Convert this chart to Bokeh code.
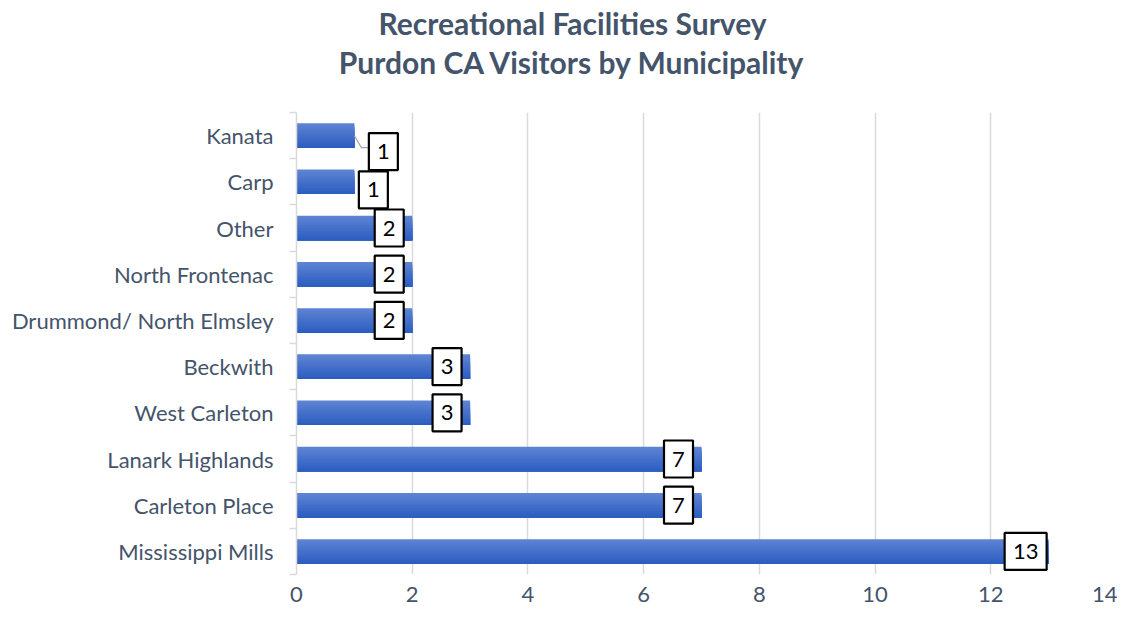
from bokeh.plotting import figure
from bokeh.layouts import column
from bokeh.models import FixedTicker, ColumnDataSource, Range1d
from bokeh.core.properties import value
from bokeh.embed import file_html
from bokeh.resources import INLINE

# ---- data (bottom to top) ----
municipalities = ["Mississippi Mills", "Carleton Place", "Lanark Highlands", "West Carleton",
                  "Beckwith", "Drummond/ North Elmsley", "North Frontenac", "Other", "Carp", "Kanata"]
visitors = [13, 7, 7, 3, 3, 2, 2, 2, 1, 1]
x_ticks = [0, 2, 4, 6, 8, 10, 12, 14]
title_lines = ["Recreational Facilities Survey", "Purdon CA Visitors by Municipality"]

FONT = "Lato"
TXT = "#44546A"
GRID = "#D9D9D9"

W = 1117
TH = 100          # title strip height
H = 507           # chart height
BL, BR, BT, BB = 296, 11, 12, 33
frame_w = W - BL - BR
frame_h = H - BT - BB
XMAX = 14
NCAT = len(municipalities)
px_x = frame_w / XMAX
px_y = frame_h / NCAT

centers = [i + 0.5 for i in range(NCAT)]

# ---- title strip (pixel coordinates; frame aligned with chart frame) ----
tf = figure(width=W, height=TH, output_backend="svg", toolbar_location=None,
            x_range=Range1d(BL, W - BR), y_range=Range1d(0, TH),
            min_border_left=BL, min_border_right=BR, min_border_top=0, min_border_bottom=0)
tf.axis.visible = False
tf.grid.visible = False
tf.outline_line_color = None
tf.text(x=[572, 572], y=[TH - 22, TH - 61], text=title_lines, text_align="center",
        text_baseline="middle", text_font=value(FONT), text_font_style="bold",
        text_font_size="30px", text_color=TXT)

# ---- chart ----
p = figure(width=W, height=H, output_backend="svg", toolbar_location=None,
           x_range=Range1d(0, XMAX), y_range=Range1d(0, NCAT),
           min_border_left=BL, min_border_right=BR, min_border_bottom=BB, min_border_top=BT)
p.outline_line_color = None
p.background_fill_color = "white"

# grid
p.ygrid.grid_line_color = None
p.xgrid.ticker = FixedTicker(ticks=x_ticks)
p.xgrid.grid_line_color = GRID
p.xgrid.grid_line_width = 1.5

# x axis
p.xaxis.ticker = FixedTicker(ticks=x_ticks)
p.xaxis.axis_line_color = None
p.xaxis.major_tick_line_color = None
p.xaxis.minor_tick_line_color = None
p.xaxis.major_tick_out = 0
p.xaxis.major_label_standoff = 12
p.xaxis.major_label_text_font = FONT
p.xaxis.major_label_text_font_size = "22px"
p.xaxis.major_label_text_color = TXT

# y axis: labels at centres, ticks at category boundaries
p.yaxis.ticker = FixedTicker(ticks=centers, minor_ticks=list(range(NCAT + 1)))
p.yaxis.major_label_overrides = {c: m for c, m in zip(centers, municipalities)}
p.yaxis.axis_line_color = GRID
p.yaxis.axis_line_width = 1.5
p.yaxis.major_tick_line_color = None
p.yaxis.major_tick_out = 0
p.yaxis.major_tick_in = 0
p.yaxis.minor_tick_line_color = GRID
p.yaxis.minor_tick_line_width = 1.5
p.yaxis.minor_tick_out = 7
p.yaxis.minor_tick_in = 0
p.yaxis.major_label_standoff = 16
p.yaxis.major_label_text_font = FONT
p.yaxis.major_label_text_font_size = "22px"
p.yaxis.major_label_text_color = TXT

# gradient bars: overlapping layers, each from its top edge down to bar bottom
bar_h = 0.53
N = 16
top_c = (0x5E, 0x83, 0xD3)
bot_c = (0x2C, 0x5E, 0xC1)
for k in range(N):
    f = k / (N - 1)
    col = "#%02x%02x%02x" % tuple(int(round(a + (b - a) * f)) for a, b in zip(top_c, bot_c))
    hk = bar_h * (N - k) / N
    p.hbar(y=[c - bar_h / 2 + hk / 2 for c in centers], left=0, right=visitors, height=hk,
           fill_color=col, line_color=None)

# data label boxes (manual Excel offsets, px -> data units)
dx_px, dy_px = [], []
for v, m in zip(visitors, municipalities):
    if m == "Kanata":
        dx_px.append(29); dy_px.append(-16)
    elif m == "Carp":
        dx_px.append(19); dy_px.append(-8)
    else:
        dx_px.append(-23); dy_px.append(0)
lx = [v + d / px_x for v, d in zip(visitors, dx_px)]
ly = [c + d / px_y for c, d in zip(centers, dy_px)]
lw = [16 + 13 * len(str(v)) for v in visitors]
src = ColumnDataSource(dict(x=lx, y=ly, w=lw, t=[str(v) for v in visitors]))

# leader line for Kanata
ki = municipalities.index("Kanata")
kv = visitors[ki]
kc = centers[ki]
p.line(x=[kv, kv + 7 / px_x, kv + 15 / px_x], y=[kc, kc - 12 / px_y, kc - 12 / px_y],
       line_color="#A6A6A6", line_width=1.2)

p.rect(x="x", y="y", width="w", height=37, width_units="screen", height_units="screen",
       source=src, fill_color="white", line_color="black", line_width=2.2)
p.text(x="x", y="y", text="t", source=src, text_align="center", text_baseline="middle",
       text_font=value(FONT), text_font_size="22px", text_color="black")

layout = column(tf, p, spacing=0)
open("out.html", "w").write(file_html(layout, INLINE))
